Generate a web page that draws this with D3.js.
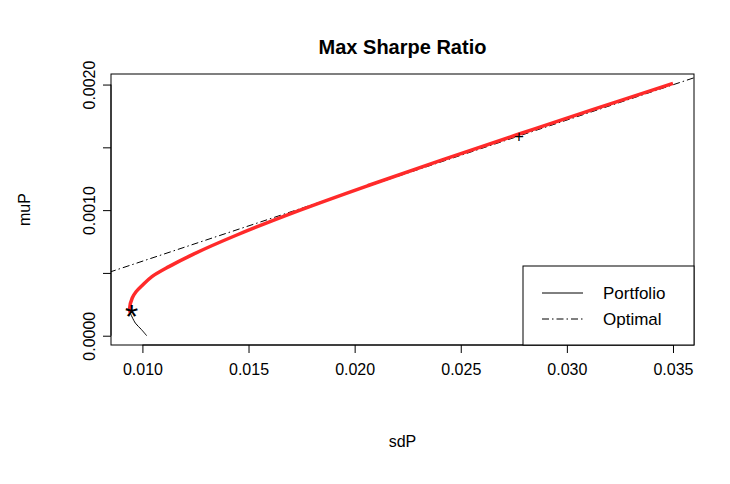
<!DOCTYPE html>
<html><head><meta charset="utf-8">
<script src="https://cdn.jsdelivr.net/npm/d3@7"></script>
<style>body{margin:0;background:#fff}text{font-family:"Liberation Sans",Arial,sans-serif}</style>
</head><body><svg id="c" width="730" height="484"></svg>
<script>
// frontier (sd, mu)
const lowerSd = [0.0102, 0.00995, 0.00967, 0.00943];
const lowerMu = [0.00000, 0.00005, 0.00010, 0.00018];
const upperSd = [0.00943, 0.0094, 0.00952, 0.00970, 0.00999, 0.01045, 0.01125, 0.01241, 0.01442, 0.01743, 0.02071, 0.02413, 0.02764, 0.03121, 0.0350];
const upperMu = [0.00018, 0.00022, 0.00030, 0.00035, 0.00040, 0.00047, 0.00055, 0.00065, 0.00080, 0.00100, 0.00120, 0.00140, 0.00160, 0.00180, 0.00201];
const lineSd = [0, 0.04];
const lineMu = [0.0000312, 0.0000312 + 0.0562 * 0.04];
const minVar = [0.00949, 0.000178];
const tangency = [0.02774, 0.00159];
const xTicks = [0.010, 0.015, 0.020, 0.025, 0.030, 0.035];
const yTicks = [0.0000, 0.0005, 0.0010, 0.0015, 0.0020];
const yLabelled = [0.0000, 0.0010, 0.0020];

const svg = d3.select("#c");
const L = 111, R = 694, T = 74, B = 345;
const x = d3.scaleLinear().domain([0.00852, 0.03599]).range([L, R]);
const y = d3.scaleLinear().domain([-0.000074, 0.002084]).range([B, T]);

svg.append("clipPath").attr("id", "clip").append("rect")
  .attr("x", L).attr("y", T).attr("width", R - L).attr("height", B - T);

const line = d3.line().curve(d3.curveCatmullRom).x(d => x(d[0])).y(d => y(d[1]));
const g = svg.append("g").attr("clip-path", "url(#clip)");
g.append("path").attr("d", line(lowerSd.map((s, i) => [s, lowerMu[i]])))
  .attr("fill", "none").attr("stroke", "#000").attr("stroke-width", 1);
g.append("path").attr("d", d3.line().x(d => x(d[0])).y(d => y(d[1]))(lineSd.map((s, i) => [s, lineMu[i]])))
  .attr("fill", "none").attr("stroke", "#000").attr("stroke-width", 1).attr("stroke-dasharray", "7,3,1.5,3");
g.append("path").attr("d", line(upperSd.map((s, i) => [s, upperMu[i]])))
  .attr("fill", "none").attr("stroke", "#ff2a2a").attr("stroke-width", 3.5);

svg.append("text").attr("x", x(minVar[0])).attr("y", y(minVar[1]) + 15).attr("text-anchor", "middle")
  .style("font-size", "34px").text("*");
svg.append("text").attr("x", x(tangency[0])).attr("y", y(tangency[1]) + 6).attr("text-anchor", "middle")
  .style("font-size", "17px").text("+");

svg.append("rect").attr("x", L).attr("y", T).attr("width", R - L).attr("height", B - T)
  .attr("fill", "none").attr("stroke", "#000");

const xa = svg.append("g").attr("transform", `translate(0,${B})`)
  .call(d3.axisBottom(x).tickValues(xTicks).tickFormat(d3.format(".3f")).tickSize(8).tickPadding(11));
const ya = svg.append("g").attr("transform", `translate(${L},0)`)
  .call(d3.axisLeft(y).tickValues(yTicks)
    .tickFormat(d => yLabelled.includes(d) ? d3.format(".4f")(d) : "").tickSize(8));
[xa, ya].forEach(a => {
  a.select(".domain").remove();
  a.selectAll("text").style("font-size", "16px").style("font-family", "Liberation Sans, Arial, sans-serif").attr("fill", "#000");
});
xa.append("line").attr("x1", x(0.010)).attr("x2", x(0.035)).attr("stroke", "#000");
ya.append("line").attr("y1", y(0)).attr("y2", y(0.002)).attr("stroke", "#000");
ya.selectAll(".tick text").attr("transform", "rotate(-90)").attr("x", 0).attr("y", -16)
  .attr("dy", 0).attr("text-anchor", "middle");

svg.append("text").attr("x", (L + R) / 2).attr("y", 54).attr("text-anchor", "middle")
  .style("font-size", "20px").attr("font-weight", "bold").text("Max Sharpe Ratio");
svg.append("text").attr("x", (L + R) / 2).attr("y", 447).attr("text-anchor", "middle")
  .style("font-size", "16px").text("sdP");
svg.append("text").attr("transform", `translate(30,${(T + B) / 2}) rotate(-90)`).attr("text-anchor", "middle")
  .style("font-size", "16px").text("muP");

// legend
const lg = svg.append("g");
lg.append("rect").attr("x", 523).attr("y", 266).attr("width", R - 523).attr("height", B - 266)
  .attr("fill", "#fff").attr("stroke", "#000");
[["Portfolio", null], ["Optimal", "7,3,1.5,3"]].forEach((d, i) => {
  const yy = 293 + i * 26;
  lg.append("line").attr("x1", 542).attr("x2", 583).attr("y1", yy).attr("y2", yy)
    .attr("stroke", "#000").attr("stroke-dasharray", d[1]);
  lg.append("text").attr("x", 603).attr("y", yy + 6).style("font-size", "17px").text(d[0]);
});
</script></body></html>
